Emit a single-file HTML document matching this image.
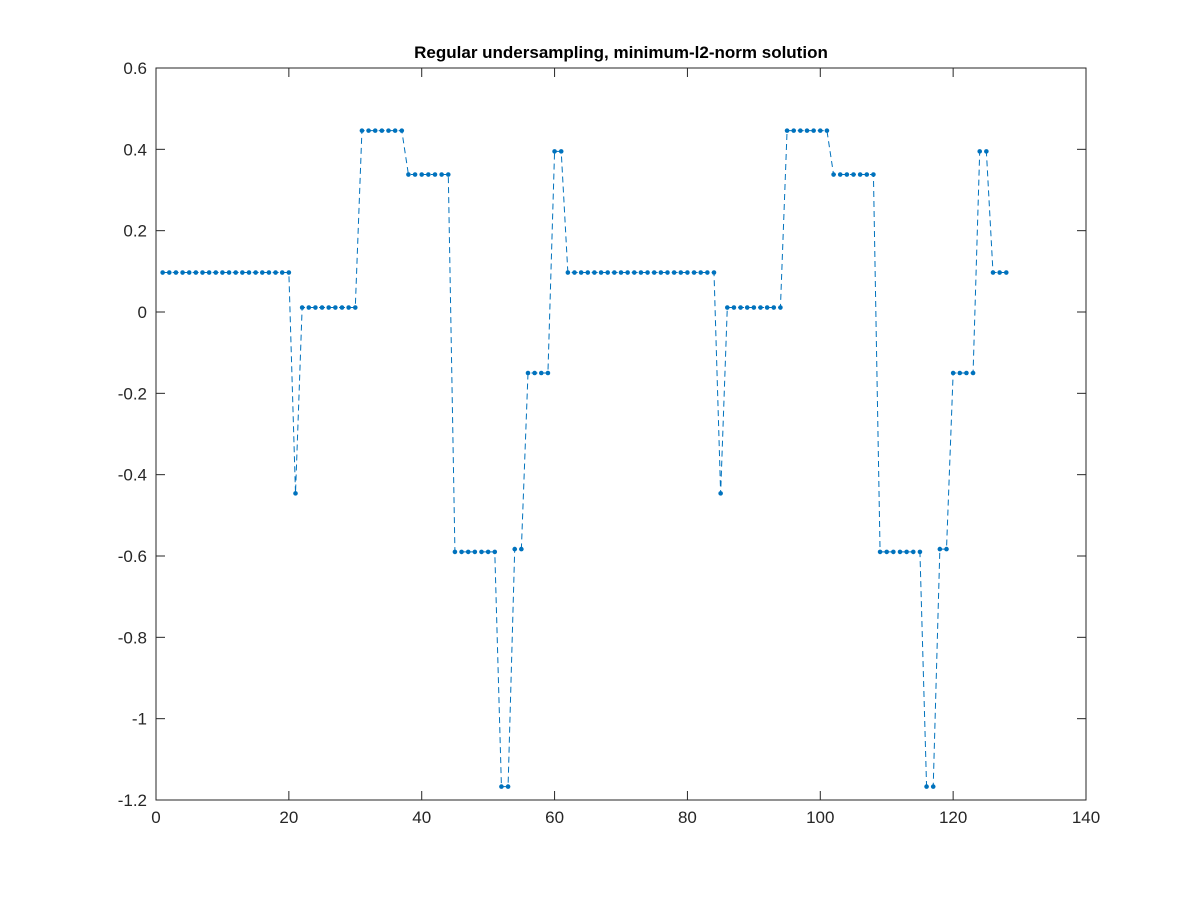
<!DOCTYPE html>
<html><head><meta charset="utf-8"><style>
body{margin:0;background:#fff;width:1200px;height:900px;overflow:hidden}
svg text{font-family:"Liberation Sans",sans-serif}
</style></head><body>
<svg id="chart" width="1200" height="900">
<rect x="0" y="0" width="1200" height="900" fill="#fff"/>
<text x="621" y="58" text-anchor="middle" font-size="17" font-weight="bold" fill="#000">Regular undersampling, minimum-l2-norm solution</text>
<g id="axes"></g>
<g id="series"></g>
</svg>
<script>
const xTicks=[0,20,40,60,80,100,120,140];
const yTicks=[0.6,0.4,0.2,0,-0.2,-0.4,-0.6,-0.8,-1,-1.2];
const yTickLabels=["0.6","0.4","0.2","0","-0.2","-0.4","-0.6","-0.8","-1","-1.2"];
const values=[
0.097,0.097,0.097,0.097,0.097,0.097,0.097,0.097,0.097,0.097,
0.097,0.097,0.097,0.097,0.097,0.097,0.097,0.097,0.097,0.097,
-0.446,0.011,0.011,0.011,0.011,0.011,0.011,0.011,0.011,0.011,
0.446,0.446,0.446,0.446,0.446,0.446,0.446,
0.338,0.338,0.338,0.338,0.338,0.338,0.338,
-0.59,-0.59,-0.59,-0.59,-0.59,-0.59,-0.59,
-1.167,-1.167,-0.583,-0.583,-0.15,-0.15,-0.15,-0.15,0.395,0.395,
0.097,0.097,0.097,
0.097,0.097,0.097,0.097,0.097,0.097,0.097,0.097,0.097,0.097,
0.097,0.097,0.097,0.097,0.097,0.097,0.097,0.097,0.097,0.097,
-0.446,0.011,0.011,0.011,0.011,0.011,0.011,0.011,0.011,0.011,
0.446,0.446,0.446,0.446,0.446,0.446,0.446,
0.338,0.338,0.338,0.338,0.338,0.338,0.338,
-0.59,-0.59,-0.59,-0.59,-0.59,-0.59,-0.59,
-1.167,-1.167,-0.583,-0.583,-0.15,-0.15,-0.15,-0.15,0.395,0.395,
0.097,0.097,0.097];
const L=156,R=1086,T=68,B=800;
const sx=v=>L+(v-0)/(140-0)*(R-L);
const sy=v=>T+(0.6-v)/(0.6+1.2)*(B-T);
const NS="http://www.w3.org/2000/svg";
const ax=document.getElementById('axes'), se=document.getElementById('series');
function mk(tag,attrs,parent){const e=document.createElementNS(NS,tag);for(const k in attrs)e.setAttribute(k,attrs[k]);parent.appendChild(e);return e;}
const box=mk('rect',{x:L,y:T,width:R-L,height:B-T,fill:'none',stroke:'#262626','stroke-width':1},ax);


xTicks.forEach(t=>{
  const x=sx(t);
  const l1=mk('line',{x1:x,x2:x,y1:B,y2:B-9,stroke:'#262626'},ax);
  
  
  const l2=mk('line',{x1:x,x2:x,y1:T,y2:T+9,stroke:'#262626'},ax);
  
  
  const tx=mk('text',{x:x,y:B+23,'text-anchor':'middle','font-size':17,fill:'#262626'},ax);
  tx.textContent=String(t);
  
  
});
yTicks.forEach((t,i)=>{
  const y=sy(t);
  const l1=mk('line',{x1:L,x2:L+9,y1:y,y2:y,stroke:'#262626'},ax);
  
  
  const l2=mk('line',{x1:R,x2:R-9,y1:y,y2:y,stroke:'#262626'},ax);
  
  
  const tx=mk('text',{x:L-9,y:y+6,'text-anchor':'end','font-size':17,fill:'#262626'},ax);
  tx.textContent=yTickLabels[i];
  
  
});
const pts=values.map((v,i)=>sx(i+1).toFixed(2)+','+sy(v).toFixed(2)).join(' ');
const pl=mk('polyline',{points:pts,fill:'none',stroke:'#0072BD','stroke-width':1,'stroke-dasharray':'6,4'},se);


values.forEach((v,i)=>{
  const c=mk('circle',{cx:sx(i+1),cy:sy(v),r:2.3,fill:'#0072BD'},se);
  
  
});
</script>
</body></html>
